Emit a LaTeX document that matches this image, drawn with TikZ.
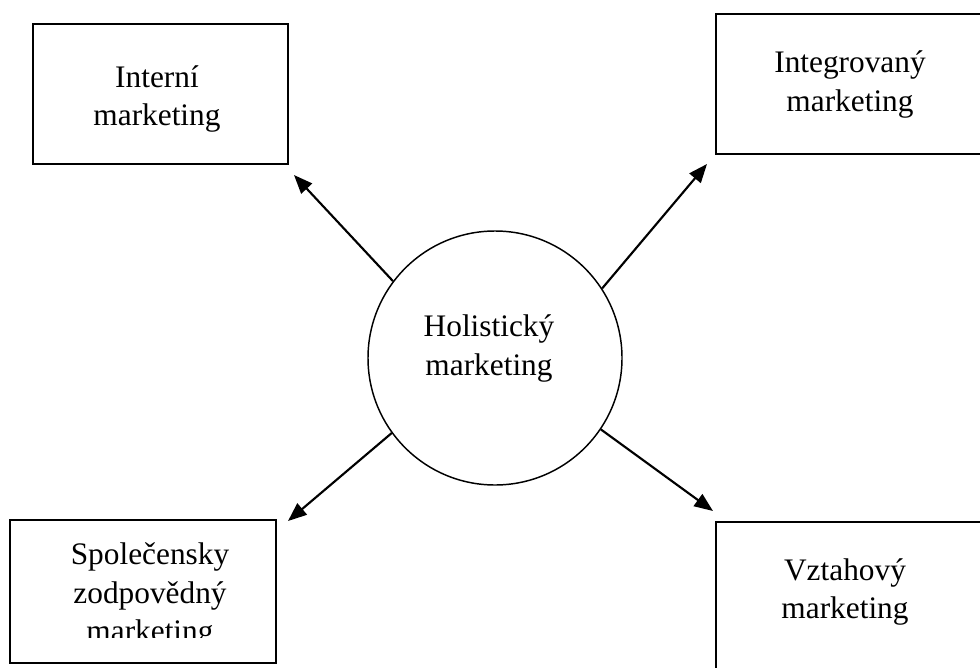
\documentclass[tikz,border=0pt]{standalone}
\usepackage{fontspec}
\setmainfont{Liberation Serif}
\usetikzlibrary{arrows.meta}

\begin{document}
\begin{tikzpicture}[
    x=0.75pt, y=-0.75pt,
    entity/.style={draw, line width=1.3pt, inner sep=0pt},
    bubble/.style={draw, circle, line width=1.1pt, minimum size=190.5pt, inner sep=0pt},
    caption/.style={align=center, inner sep=0pt, font=\fontsize{23.5pt}{29pt}\selectfont},
    arrow/.style={-{Triangle[length=14pt, width=11pt]}, line width=1.6pt}
]
    \useasboundingbox (0,0) rectangle (980,667);

    % Entities
    \node[bubble] (holo) at (495,358) {};
    \node[entity, minimum width=191.25pt, minimum height=105pt] (intern) at (160.5,94) {};
    \node[entity, minimum width=205.5pt, minimum height=105pt] (integ) at (853,84) {};
    \node[entity, minimum width=199.5pt, minimum height=107.25pt] (soc) at (143,591.5) {};
    \node[entity, minimum width=205.5pt, minimum height=111pt] (vztah) at (853,596) {};

    % Texts
    \node[caption] (holotext) at (489,348.5) {Holistický\\marketing};
    \node[caption] (interntext) at (157,99) {Interní\\marketing};
    \node[caption] (integtext) at (850,84.5) {Integrovaný\\marketing};
    \node[caption] (vztahtext) at (845,592) {Vztahový\\marketing};
    \begin{scope}
        \clip (0,500) rectangle (300,637);
        \node[caption] (soctext) at (150,595.7) {Společensky\\zodpovědný\\marketing};
    \end{scope}

    % Arrow ends
    \coordinate (interntip) at (294,175);
    \coordinate (integtip) at (707,164);
    \coordinate (soctip) at (288,521);
    \coordinate (vztahtip) at (713,511);

    % Relationships
    \draw[arrow] (holo.143) -- (interntip);
    \draw[arrow] (holo.33.6) -- (integtip);
    \draw[arrow] (holo.216.5) -- (soctip);
    \draw[arrow] (holo.326.8) -- (vztahtip);
\end{tikzpicture}
\end{document}
